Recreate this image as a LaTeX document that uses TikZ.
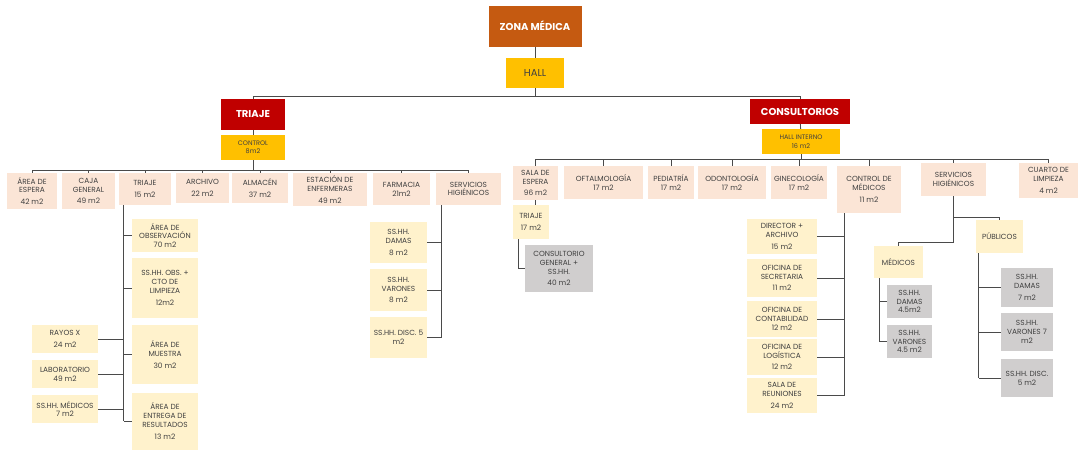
\documentclass[tikz,border=0pt]{standalone}
\usepackage{fontspec}
\setmainfont{Poppins}
\usetikzlibrary{calc}

\definecolor{zonaorange}{HTML}{C55A11}
\definecolor{gold}{HTML}{FFC000}
\definecolor{darkred}{HTML}{C00000}
\definecolor{peach}{HTML}{FBE5D6}
\definecolor{cream}{HTML}{FFF2CC}
\definecolor{boxgray}{HTML}{D0CECE}
\definecolor{txt}{HTML}{404040}
\definecolor{linegray}{HTML}{4A4A4A}

\tikzset{
  room/.style={align=center, inner sep=0.5pt, text=txt, font=\fontsize{7.4}{8.8}\selectfont},
  roomA/.style={room, fill=peach},
  roomB/.style={room, fill=cream},
  roomC/.style={room, fill=boxgray},
  hallbox/.style={room, fill=gold},
  zonebox/.style={room, fill=darkred, text=white, font=\bfseries\fontsize{10}{12}\selectfont},
  wire/.style={draw=linegray, line width=0.9pt}
}

\begin{document}
\begin{tikzpicture}[x=1pt,y=-1pt]
  \useasboundingbox (0,0) rectangle (1079,450);
  \fill[white] (0,0) rectangle (1079,450);

  % top levels
  \node[zonebox, fill=zonaorange, minimum width=93, minimum height=41] (zona) at (535,26) {ZONA MÉDICA};
  \node[hallbox, font=\fontsize{10}{12}\selectfont, minimum width=58, minimum height=30] (hall) at (535,73) {HALL};
  \node[zonebox, minimum width=64, minimum height=31] (triaje) at (253,114.5) {TRIAJE};
  \node[hallbox, font=\fontsize{6.5}{7.5}\selectfont, minimum width=64, minimum height=25] (control) at (253,147.5) {CONTROL\\8m2};
  \node[zonebox, minimum width=100, minimum height=25] (consult) at (800,111.5) {CONSULTORIOS};
  \node[hallbox, font=\fontsize{6.5}{7.5}\selectfont, minimum width=78, minimum height=25] (hallint) at (801,141.5) {HALL INTERNO\\[2pt]16 m2};

  % triaje
  \node[roomA, minimum width=50, minimum height=36] (espera) at (32,191) {ÁREA DE\\ESPERA\\[3pt]42 m2};
  \node[roomA, minimum width=53, minimum height=36] (caja) at (88.5,191) {CAJA\\GENERAL\\[3pt]49 m2};
  \node[roomA, minimum width=52, minimum height=32] (triajeB) at (145,189) {TRIAJE\\[3pt]15 m2};
  \node[roomA, minimum width=53, minimum height=30] (archivo) at (202.5,188) {ARCHIVO\\[3pt]22 m2};
  \node[roomA, minimum width=56, minimum height=30] (almacen) at (260,188) {ALMACÉN\\[3pt]37 m2};
  \node[roomA, minimum width=74, minimum height=33] (estacion) at (330,189.5) {ESTACIÓN DE\\ENFERMERAS\\[3pt]49 m2};
  \node[roomA, minimum width=57, minimum height=32] (farmacia) at (401.5,189) {FARMACIA\\21m2};
  \node[roomA, minimum width=65, minimum height=32] (sshhA) at (468.5,189) {SERVICIOS\\HIGIÉNICOS};

  \node[roomB, minimum width=66, minimum height=33] (obs) at (165,235.5) {ÁREA DE\\OBSERVACIÓN\\70 m2};
  \node[roomB, minimum width=66, minimum height=60] (obslimp) at (165,288) {SS.HH. OBS. +\\CTO DE\\LIMPIEZA\\[3pt]12m2};
  \node[roomB, minimum width=66, minimum height=59] (muestra) at (165,354.5) {ÁREA DE\\MUESTRA\\[3pt]30 m2};
  \node[roomB, minimum width=66, minimum height=57] (entrega) at (165,421) {ÁREA DE\\ENTREGA DE\\RESULTADOS\\[3pt]13 m2};
  \node[roomB, minimum width=66, minimum height=28] (rayos) at (65,339) {RAYOS X\\[3pt]24 m2};
  \node[roomB, minimum width=66, minimum height=28] (lab) at (65,374) {LABORATORIO\\49 m2};
  \node[roomB, minimum width=66, minimum height=28] (medicos) at (65,409) {SS.HH. MÉDICOS\\7 m2};

  \node[roomB, minimum width=57, minimum height=41] (damasA) at (398.5,242.5) {SS.HH.\\DAMAS\\[3pt]8 m2};
  \node[roomB, minimum width=57, minimum height=42] (varonesA) at (398.5,290) {SS.HH.\\VARONES\\[3pt]8 m2};
  \node[roomB, minimum width=57, minimum height=41] (discA) at (398.5,337.5) {SS.HH. DISC. 5\\m2};

  % consultorios
  \node[roomA, minimum width=45, minimum height=34] (sala) at (535.5,183) {SALA DE\\ESPERA\\[3pt]96 m2};
  \node[roomA, minimum width=79, minimum height=33] (oftal) at (603.5,182.5) {OFTALMOLOGÍA\\17 m2};
  \node[roomA, minimum width=46, minimum height=33] (pedia) at (671,182.5) {PEDIATRÍA\\17 m2};
  \node[roomA, minimum width=68, minimum height=33] (odonto) at (732,182.5) {ODONTOLOGÍA\\17 m2};
  \node[roomA, minimum width=56, minimum height=33] (gineco) at (799,182.5) {GINECOLOGÍA\\17 m2};
  \node[roomA, minimum width=64, minimum height=47] (controlmed) at (869,189.5) {CONTROL DE\\MÉDICOS\\[3pt]11 m2};
  \node[roomA, minimum width=65, minimum height=33] (sshhB) at (953.5,179.5) {SERVICIOS\\HIGIÉNICOS};
  \node[roomA, minimum width=59, minimum height=35] (cuarto) at (1048.5,180.5) {CUARTO DE\\LIMPIEZA\\[3pt]4 m2};

  \node[roomB, minimum width=36, minimum height=34] (triajeC) at (531,222) {TRIAJE\\[3pt]17 m2};
  \node[roomC, minimum width=68, minimum height=47] (consgen) at (559,268.5) {CONSULTORIO\\GENERAL +\\SS.HH.\\[3pt]40 m2};

  \node[roomB, minimum width=70, minimum height=35] (director) at (782,236.5) {DIRECTOR +\\ARCHIVO\\[3pt]15 m2};
  \node[roomB, minimum width=70, minimum height=38] (secret) at (782,278) {OFICINA DE\\SECRETARIA\\[3pt]11 m2};
  \node[roomB, minimum width=70, minimum height=36] (contab) at (782,319) {OFICINA DE\\CONTABILIDAD\\12 m2};
  \node[roomB, minimum width=70, minimum height=36] (logist) at (782,357) {OFICINA DE\\LOGÍSTICA\\[3pt]12 m2};
  \node[roomB, minimum width=70, minimum height=35] (reunion) at (782,395.5) {SALA DE\\REUNIONES\\[3pt]24 m2};

  \node[roomB, minimum width=49, minimum height=32] (med) at (898.5,262) {MÉDICOS};
  \node[roomB, minimum width=47, minimum height=33] (pub) at (999.5,236.5) {PÚBLICOS};
  \node[roomC, minimum width=45, minimum height=33] (damasM) at (909.5,301.5) {SS.HH.\\DAMAS\\4.5m2};
  \node[roomC, minimum width=45, minimum height=33] (varonesM) at (909.5,341.5) {SS.HH.\\VARONES\\4.5 m2};
  \node[roomC, minimum width=52, minimum height=39] (damasP) at (1027,287.5) {SS.HH.\\DAMAS\\[3pt]7 m2};
  \node[roomC, minimum width=52, minimum height=38] (varonesP) at (1027,332) {SS.HH.\\VARONES 7\\m2};
  \node[roomC, minimum width=52, minimum height=38] (discP) at (1027,378) {SS.HH. DISC.\\5 m2};

  % connectors
  \draw[wire] (zona) -- (hall);
  \draw[wire] (hall.south) -- ++(0,8) -| (triaje.north);
  \draw[wire] (hall.south) -- ++(0,8) -| (consult.north);
  \draw[wire] (triaje) -- (control);
  \draw[wire] (consult) -- (hallint);

  \foreach \n in {espera,caja,triajeB,archivo,almacen,estacion,farmacia,sshhA}
    \draw[wire] (control.south) -- ++(0,10) -| (\n.north);
  \coordinate (tv) at ($(triajeB.south west)+(5,0)$);
  \draw[wire] (tv) -- (tv |- entrega.west);
  \foreach \n in {obs,obslimp,muestra,entrega}
    \draw[wire] (tv |- \n.west) -- (\n.west);
  \foreach \n in {rayos,lab,medicos}
    \draw[wire] (tv |- \n.east) -- (\n.east);
  \coordinate (sv) at ($(sshhA.south west)+(6,0)$);
  \draw[wire] (sv) -- (sv |- discA.east);
  \foreach \n in {damasA,varonesA,discA}
    \draw[wire] (sv |- \n.east) -- (\n.east);

  \foreach \n in {sala,oftal,pedia,odonto,gineco,controlmed,sshhB,cuarto}
    \draw[wire] (hallint.south) -- ++(0,5) -| (\n.north);
  \draw[wire] (sala.south) -- (sala.south |- triajeC.north);
  \draw[wire] ($(triajeC.south west)+(6,0)$) |- (consgen.west);
  \coordinate (cv) at ($(controlmed.south west)+(8,0)$);
  \draw[wire] (cv) -- (cv |- reunion.east);
  \foreach \n in {director,secret,contab,logist,reunion}
    \draw[wire] (cv |- \n.east) -- (\n.east);
  \draw[wire] (sshhB.south) -- ++(0,46) -| (med.north);
  \draw[wire] (sshhB.south) -- ++(0,21) -| (pub.north);
  \coordinate (mv) at ($(med.south west)+(6,0)$);
  \draw[wire] (mv) -- (mv |- varonesM.west);
  \foreach \n in {damasM,varonesM}
    \draw[wire] (mv |- \n.west) -- (\n.west);
  \coordinate (pv) at ($(pub.south west)+(3,0)$);
  \draw[wire] (pv) -- (pv |- discP.west);
  \foreach \n in {damasP,varonesP,discP}
    \draw[wire] (pv |- \n.west) -- (\n.west);
\end{tikzpicture}
\end{document}
